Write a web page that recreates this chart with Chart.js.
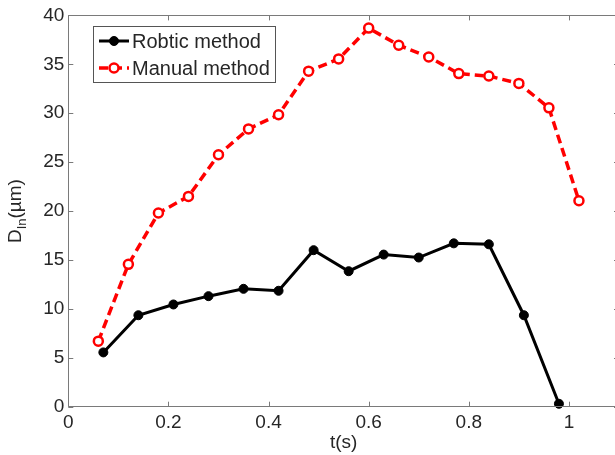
<!DOCTYPE html>
<html>
<head>
<meta charset="utf-8">
<script src="https://cdn.jsdelivr.net/npm/chart.js@4"></script>
<style>
  html, body { margin: 0; padding: 0; background: #fff; overflow: hidden; }
  #c { display: block; }
</style>
</head>
<body>
<canvas id="c" width="626" height="455"></canvas>
<script>
// Time stamps (s) and measured diameters D_In (µm)
const robticT = [0.07, 0.14, 0.21, 0.28, 0.35, 0.42, 0.49, 0.56, 0.63, 0.70, 0.77, 0.84, 0.91, 0.98];
const robticD = [5.55, 9.35, 10.45, 11.3, 12.05, 11.85, 16.0, 13.85, 15.55, 15.25, 16.7, 16.6, 9.35, 0.3];
const manualT = [0.06, 0.12, 0.18, 0.24, 0.30, 0.36, 0.42, 0.48, 0.54, 0.60, 0.66, 0.72, 0.78, 0.84, 0.90, 0.96, 1.02];
const manualD = [6.7, 14.55, 19.8, 21.5, 25.75, 28.4, 29.85, 34.3, 35.55, 38.7, 36.95, 35.75, 34.05, 33.8, 33.05, 30.55, 21.05];

const xTicks = [0, 0.2, 0.4, 0.6, 0.8, 1];
const yTicks = [0, 5, 10, 15, 20, 25, 30, 35, 40];
const seriesNames = ['Robtic method', 'Manual method'];

const FONT = '"Liberation Sans", Arial, sans-serif';
const TEXT = '#262626';
const AXIS = '#7a7a7a';

function toXY(xs, ys) { return xs.map((x, i) => ({ x: x, y: ys[i] })); }

// Box around the plot (its right side runs just past the visible edge),
// inward ticks, axis titles and legend
const framePlugin = {
  id: 'frame',
  afterDraw(chart) {
    const ctx = chart.ctx;
    const a = chart.chartArea;
    const xs = chart.scales.x, ys = chart.scales.y;
    const tl = 5;
    ctx.save();
    ctx.strokeStyle = AXIS;
    ctx.lineWidth = 1;
    ctx.beginPath();
    ctx.rect(Math.round(a.left) + 0.5, Math.round(a.top) + 0.5, Math.round(a.right - a.left), Math.round(a.bottom - a.top));
    xTicks.forEach(v => {
      const px = Math.round(xs.getPixelForValue(v)) + 0.5;
      ctx.moveTo(px, a.bottom); ctx.lineTo(px, a.bottom - tl);
      ctx.moveTo(px, a.top); ctx.lineTo(px, a.top + tl);
    });
    yTicks.forEach(v => {
      const py = Math.round(ys.getPixelForValue(v)) + 0.5;
      ctx.moveTo(a.left, py); ctx.lineTo(a.left + tl, py);
      ctx.moveTo(a.right, py); ctx.lineTo(a.right - tl, py);
    });
    ctx.stroke();

    // x title
    ctx.fillStyle = TEXT;
    ctx.font = '19px ' + FONT;
    ctx.textAlign = 'center';
    ctx.textBaseline = 'middle';
    ctx.fillText('t(s)', (a.left + a.right) / 2, 443);

    // y title with subscript, rotated
    ctx.save();
    ctx.translate(16, (a.top + a.bottom) / 2);
    ctx.rotate(-Math.PI / 2);
    const main = '19px ' + FONT, sub = '13px ' + FONT;
    ctx.font = main; const wD = ctx.measureText('D').width; const wU = ctx.measureText('(µm)').width;
    ctx.font = sub; const wS = ctx.measureText('In').width;
    let x0 = -(wD + wS + wU) / 2;
    ctx.textAlign = 'left';
    ctx.font = main; ctx.fillText('D', x0, 0); x0 += wD;
    ctx.font = sub; ctx.fillText('In', x0, 6); x0 += wS;
    ctx.font = main; ctx.fillText('(µm)', x0, 0);
    ctx.restore();

    // legend
    const lx = 93, ly = 26, lw = 182, lh = 56;
    ctx.fillStyle = '#fff';
    ctx.fillRect(lx, ly, lw, lh);
    ctx.strokeStyle = '#555';
    ctx.lineWidth = 1;
    ctx.strokeRect(lx + 0.5, ly + 0.5, lw, lh);
    const rows = [41, 68];
    chart.data.datasets.forEach((ds, i) => {
      const y = rows[i];
      ctx.save();
      ctx.strokeStyle = ds.borderColor;
      ctx.lineWidth = ds.borderWidth;
      ctx.setLineDash(ds.borderDash || []);
      ctx.beginPath(); ctx.moveTo(99, y); ctx.lineTo(129, y); ctx.stroke();
      ctx.setLineDash([]);
      ctx.beginPath(); ctx.arc(114, y, ds.pointRadius, 0, Math.PI * 2);
      ctx.fillStyle = ds.pointBackgroundColor; ctx.fill();
      ctx.lineWidth = ds.pointBorderWidth; ctx.strokeStyle = ds.pointBorderColor; ctx.stroke();
      ctx.restore();
      ctx.fillStyle = TEXT;
      ctx.font = '20px ' + FONT;
      ctx.textAlign = 'left';
      ctx.textBaseline = 'middle';
      ctx.fillText(seriesNames[i], 132, y + 1);
    });
    ctx.restore();
  }
};

new Chart(document.getElementById('c'), {
  type: 'scatter',
  data: {
    datasets: [
      {
        label: seriesNames[0],
        data: toXY(robticT, robticD),
        showLine: true,
        borderColor: '#000000',
        borderWidth: 3,
        pointRadius: 4.5,
        pointBackgroundColor: '#000000',
        pointBorderColor: '#000000',
        pointBorderWidth: 1,
        clip: false,
        order: 1
      },
      {
        label: seriesNames[1],
        data: toXY(manualT, manualD),
        showLine: true,
        borderColor: '#ff0000',
        borderWidth: 3.5,
        borderDash: [9, 5],
        pointRadius: 4.5,
        pointBackgroundColor: '#ffffff',
        pointBorderColor: '#ff0000',
        pointBorderWidth: 2.5,
        clip: false,
        order: 0
      }
    ]
  },
  options: {
    responsive: false,
    animation: false,
    events: [],
    layout: { padding: { top: 13.5, right: 0, left: 0, bottom: 0 } },
    plugins: { legend: { display: false }, tooltip: { enabled: false } },
    scales: {
      x: {
        type: 'linear', min: 0, max: 1.1,
        grid: { display: false, drawTicks: false },
        border: { display: false },
        afterBuildTicks: s => { s.ticks = xTicks.map(v => ({ value: v })); },
        afterFit: s => { s.height = 48.3; },
        ticks: {
          padding: 5,
          color: TEXT,
          font: { family: FONT, size: 19 },
          maxRotation: 0,
          callback: v => String(v)
        }
      },
      y: {
        type: 'linear', min: 0, max: 40,
        grid: { display: false, drawTicks: false },
        border: { display: false },
        afterBuildTicks: s => { s.ticks = yTicks.map(v => ({ value: v })); },
        afterFit: s => { s.width = 68.3; },
        ticks: {
          padding: 4,
          color: TEXT,
          font: { family: FONT, size: 19 },
          callback: v => String(v)
        }
      }
    }
  },
  plugins: [framePlugin]
});
</script>
</body>
</html>
